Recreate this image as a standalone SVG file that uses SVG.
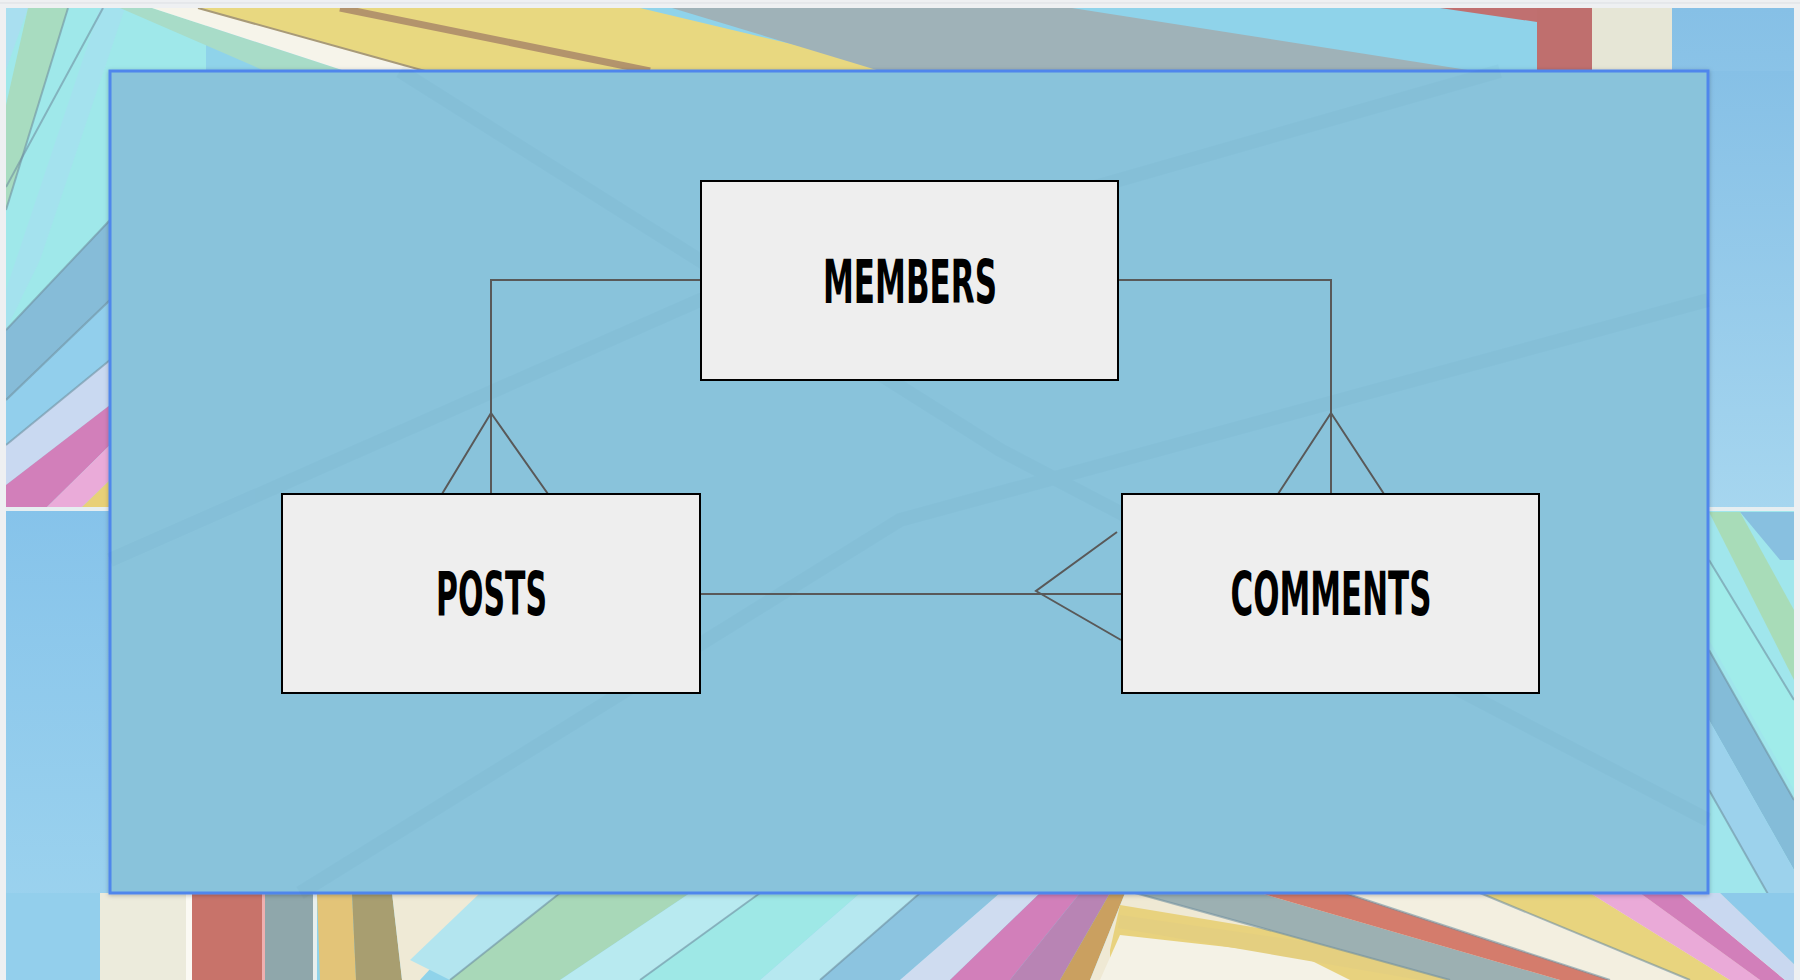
<svg xmlns="http://www.w3.org/2000/svg" width="1800" height="980" viewBox="0 0 1800 980">
  <defs>
    <style>
      .box { fill: #eeeeee; stroke: #000000; stroke-width: 2; }
      .lbl { font-family: "Liberation Sans Narrow", "DejaVu Sans Condensed", "Liberation Sans", sans-serif; font-weight: bold; font-size: 60px; fill: #000000; text-anchor: middle; }
      .conn { fill: none; stroke: #595959; stroke-width: 2; }
      .sep { fill: none; stroke: #6f8fa0; stroke-width: 2; opacity: 0.6; }
    </style>
    <clipPath id="pageClip">
      <rect x="6" y="8" width="1788" height="972"/>
    </clipPath>
    <clipPath id="topLeftClip">
      <rect x="6" y="8" width="1788" height="501"/>
    </clipPath>
    <linearGradient id="leftLow" x1="0" y1="0" x2="0" y2="1">
      <stop offset="0" stop-color="#86c3ea"/>
      <stop offset="1" stop-color="#9fd5ef"/>
    </linearGradient>
    <linearGradient id="rightHigh" x1="0" y1="0" x2="0" y2="1">
      <stop offset="0" stop-color="#86c0e6"/>
      <stop offset="1" stop-color="#a6d6ef"/>
    </linearGradient>
    <filter id="shadow" x="-5%" y="-5%" width="110%" height="110%">
      <feDropShadow dx="0" dy="1" stdDeviation="2" flood-color="#000" flood-opacity="0.25"/>
    </filter>
  </defs>

  <!-- window chrome -->
  <rect x="0" y="0" width="1800" height="980" fill="#eef0f2"/>
  <line x1="0" y1="3" x2="1800" y2="3" stroke="#dcdfe3" stroke-width="1"/>

  <!-- background scene -->
  <g id="background" clip-path="url(#pageClip)">
    <rect x="6" y="8" width="1788" height="972" fill="#8fd3ea"/>

    <!-- top band + upper left -->
    <g clip-path="url(#topLeftClip)">
      <rect x="6" y="8" width="200" height="501" fill="#9fe8ea"/>
      <polygon points="6,8 28,8 6,70" fill="#a9dff0"/>
      <polygon points="28,8 68,8 6,210 6,105" fill="#a8dcc0"/>
      <line x1="68" y1="8" x2="6" y2="210" class="sep"/>
      <polygon points="100,8 125,8 40,260 6,330 6,290" fill="#a4e2ee"/>
      <line x1="103" y1="8" x2="6" y2="187" class="sep"/>
      <polygon points="110,220 110,300 6,400 6,330" fill="#86bcd8"/>
      <line x1="110" y1="220" x2="6" y2="330" class="sep"/>
      <polygon points="110,300 110,360 6,445 6,400" fill="#92cfec"/>
      <line x1="110" y1="300" x2="6" y2="400" class="sep"/>
      <polygon points="110,360 110,405 6,485 6,445" fill="#c9d9f1"/>
      <line x1="110" y1="360" x2="6" y2="445" class="sep"/>
      <polygon points="110,405 110,445 45,509 6,509 6,485" fill="#d27fba"/>
      <polygon points="110,445 110,480 80,509 45,509" fill="#eaabd9"/>
      <polygon points="110,480 110,509 80,509" fill="#e8d078"/>

      <!-- top band stripes -->
      <polygon points="120,8 152,8 345,71 265,71" fill="#a8dcc8"/>
      <polygon points="152,8 198,8 425,71 345,71" fill="#f6f4ea"/>
      <polygon points="198,8 640,8 905,71 425,71" fill="#e8d880"/>
      <line x1="340" y1="8" x2="650" y2="71" stroke="#b3946c" stroke-width="7"/>
      <line x1="198" y1="8" x2="425" y2="71" stroke="#a89a78" stroke-width="2"/>
      <polygon points="672,8 1072,8 1474,71 880,71" fill="#9fb2b8"/>
      <polygon points="1440,8 1537,8 1537,22" fill="#c07070"/>
      <rect x="1537" y="8" width="55" height="500" fill="#bf6f6e"/>
      <rect x="1592" y="8" width="80" height="500" fill="#e6e6d6"/>
      <rect x="1672" y="8" width="122" height="500" fill="url(#rightHigh)"/>
      <rect x="1709" y="71" width="85" height="438" fill="url(#rightHigh)"/>
    </g>

    <!-- lower left solid -->
    <rect x="6" y="509" width="104" height="471" fill="url(#leftLow)"/>

    <!-- lower right stripes -->
    <rect x="1709" y="509" width="85" height="471" fill="#a0e6ec"/>
    <polygon points="1740,512 1794,512 1794,560 1780,560" fill="#88c0e0"/>
    <polygon points="1709,512 1740,512 1794,610 1794,680" fill="#a8dcb8"/>
    <polygon points="1709,560 1709,640 1794,790 1794,700" fill="#a0ecea"/>
    <polygon points="1709,650 1709,720 1794,870 1794,800" fill="#84bcd8"/>
    <polygon points="1709,720 1709,790 1794,940 1794,870" fill="#9cd2ec"/>
    <line x1="1709" y1="560" x2="1794" y2="700" class="sep"/>
    <line x1="1709" y1="650" x2="1794" y2="800" class="sep"/>
    <line x1="1709" y1="790" x2="1794" y2="940" class="sep"/>

    <!-- bottom band -->
    <rect x="6" y="893" width="96" height="87" fill="#93cfec"/>
    <rect x="100" y="893" width="88" height="87" fill="#ecebdc"/>
    <rect x="186" y="893" width="6" height="87" fill="#fbfaf4"/>
    <rect x="192" y="893" width="70" height="87" fill="#c8736a"/>
    <rect x="262" y="893" width="3" height="87" fill="#eeb0b0"/>
    <rect x="265" y="893" width="48" height="87" fill="#8fa7ab"/>
    <rect x="313" y="893" width="4" height="87" fill="#e8f0ee"/>
    <polygon points="317,893 352,893 356,980 320,980" fill="#e3c478"/>
    <polygon points="352,893 392,893 402,980 356,980" fill="#a89e70"/>
    <polygon points="392,893 500,893 420,980 402,980" fill="#efead6"/>
    <polygon points="480,893 560,893 450,980 410,960" fill="#b3e5ef"/>
    <polygon points="560,893 690,893 560,980 450,980" fill="#a8d8b8"/>
    <polygon points="690,893 760,893 640,980 560,980" fill="#b8eaf0"/>
    <polygon points="760,893 860,893 760,980 640,980" fill="#9ee8e6"/>
    <polygon points="860,893 920,893 820,980 760,980" fill="#b6e8f0"/>
    <polygon points="920,893 1000,893 900,980 820,980" fill="#8cc4e0"/>
    <polygon points="1000,893 1040,893 950,980 900,980" fill="#cfdcf0"/>
    <polygon points="1040,893 1080,893 1010,980 950,980" fill="#d27fba"/>
    <polygon points="1080,893 1110,893 1060,980 1010,980" fill="#b884b4"/>
    <polygon points="1110,893 1125,893 1090,980 1060,980" fill="#caa060"/>
    <line x1="760" y1="893" x2="640" y2="980" class="sep"/>
    <line x1="920" y1="893" x2="820" y2="980" class="sep"/>
    <line x1="560" y1="893" x2="450" y2="980" class="sep"/>
    <!-- rays -->
    <polygon points="1125,893 1800,893 1800,980 1090,980" fill="#efe9d4"/>
    <polygon points="1120,905 1300,935 1500,980 1110,980 1110,950" fill="#e8d27e"/>
    <polygon points="1120,935 1300,955 1350,980 1100,980" fill="#f4f2e6"/>
    <polygon points="1120,915 1400,955 1490,980 1420,980 1118,928" fill="#e4cf80"/>
    <polygon points="1135,893 1260,893 1560,980 1450,980" fill="#9cb0b2"/>
    <polygon points="1260,893 1345,893 1610,980 1560,980" fill="#d47c6c"/>
    <polygon points="1345,893 1480,893 1690,980 1610,980" fill="#f3efe0"/>
    <polygon points="1480,893 1590,893 1730,980 1690,980" fill="#e8d47e"/>
    <polygon points="1590,893 1640,893 1760,980 1730,980" fill="#eaaad8"/>
    <polygon points="1640,893 1680,893 1785,980 1760,980" fill="#d27fba"/>
    <polygon points="1680,893 1720,893 1800,970 1800,980 1785,980" fill="#c9d8f0"/>
    <polygon points="1720,893 1800,893 1800,970" fill="#8dcaea"/>
    <line x1="1135" y1="893" x2="1450" y2="980" class="sep"/>
    <line x1="1480" y1="893" x2="1690" y2="980" class="sep"/>
    <line x1="1345" y1="893" x2="1610" y2="980" class="sep"/>

    <!-- seam -->
    <rect x="6" y="507" width="104" height="4" fill="#e6eef1"/>
    <rect x="1709" y="507" width="85" height="4" fill="#e6eef1"/>
  </g>

  <!-- main panel -->
  <g id="panel">
    <rect x="110" y="71" width="1598" height="822" fill="#89c3db" stroke="#4f86ec" stroke-width="3" filter="url(#shadow)"/>
    <g opacity="0.03" fill="none" stroke="#1d5f80" stroke-width="14">
      <path d="M300,893 L900,520 L1708,300"/>
      <path d="M110,560 L700,300 L1500,71"/>
      <path d="M400,71 L1000,450 L1708,820"/>
    </g>
  </g>

  <!-- connectors -->
  <g id="connectors">
    <path class="conn" d="M700,280 H491 V494"/>
    <path class="conn" d="M442,494 L491,413 L548,494"/>
    <path class="conn" d="M1118,280 H1331 V494"/>
    <path class="conn" d="M1278,494 L1331,413 L1384,494"/>
    <path class="conn" d="M700,594 H1122"/>
    <path class="conn" d="M1117,532 L1036,591 L1121,640"/>
  </g>

  <!-- nodes -->
  <g id="members">
    <rect class="box" x="701" y="181" width="417" height="199"/>
    <text class="lbl" x="910" y="303" textLength="174" lengthAdjust="spacingAndGlyphs">MEMBERS</text>
  </g>
  <g id="posts">
    <rect class="box" x="282" y="494" width="418" height="199"/>
    <text class="lbl" x="491.5" y="615" textLength="111" lengthAdjust="spacingAndGlyphs">POSTS</text>
  </g>
  <g id="comments">
    <rect class="box" x="1122" y="494" width="417" height="199"/>
    <text class="lbl" x="1331" y="615" textLength="201" lengthAdjust="spacingAndGlyphs">COMMENTS</text>
  </g>
</svg>
